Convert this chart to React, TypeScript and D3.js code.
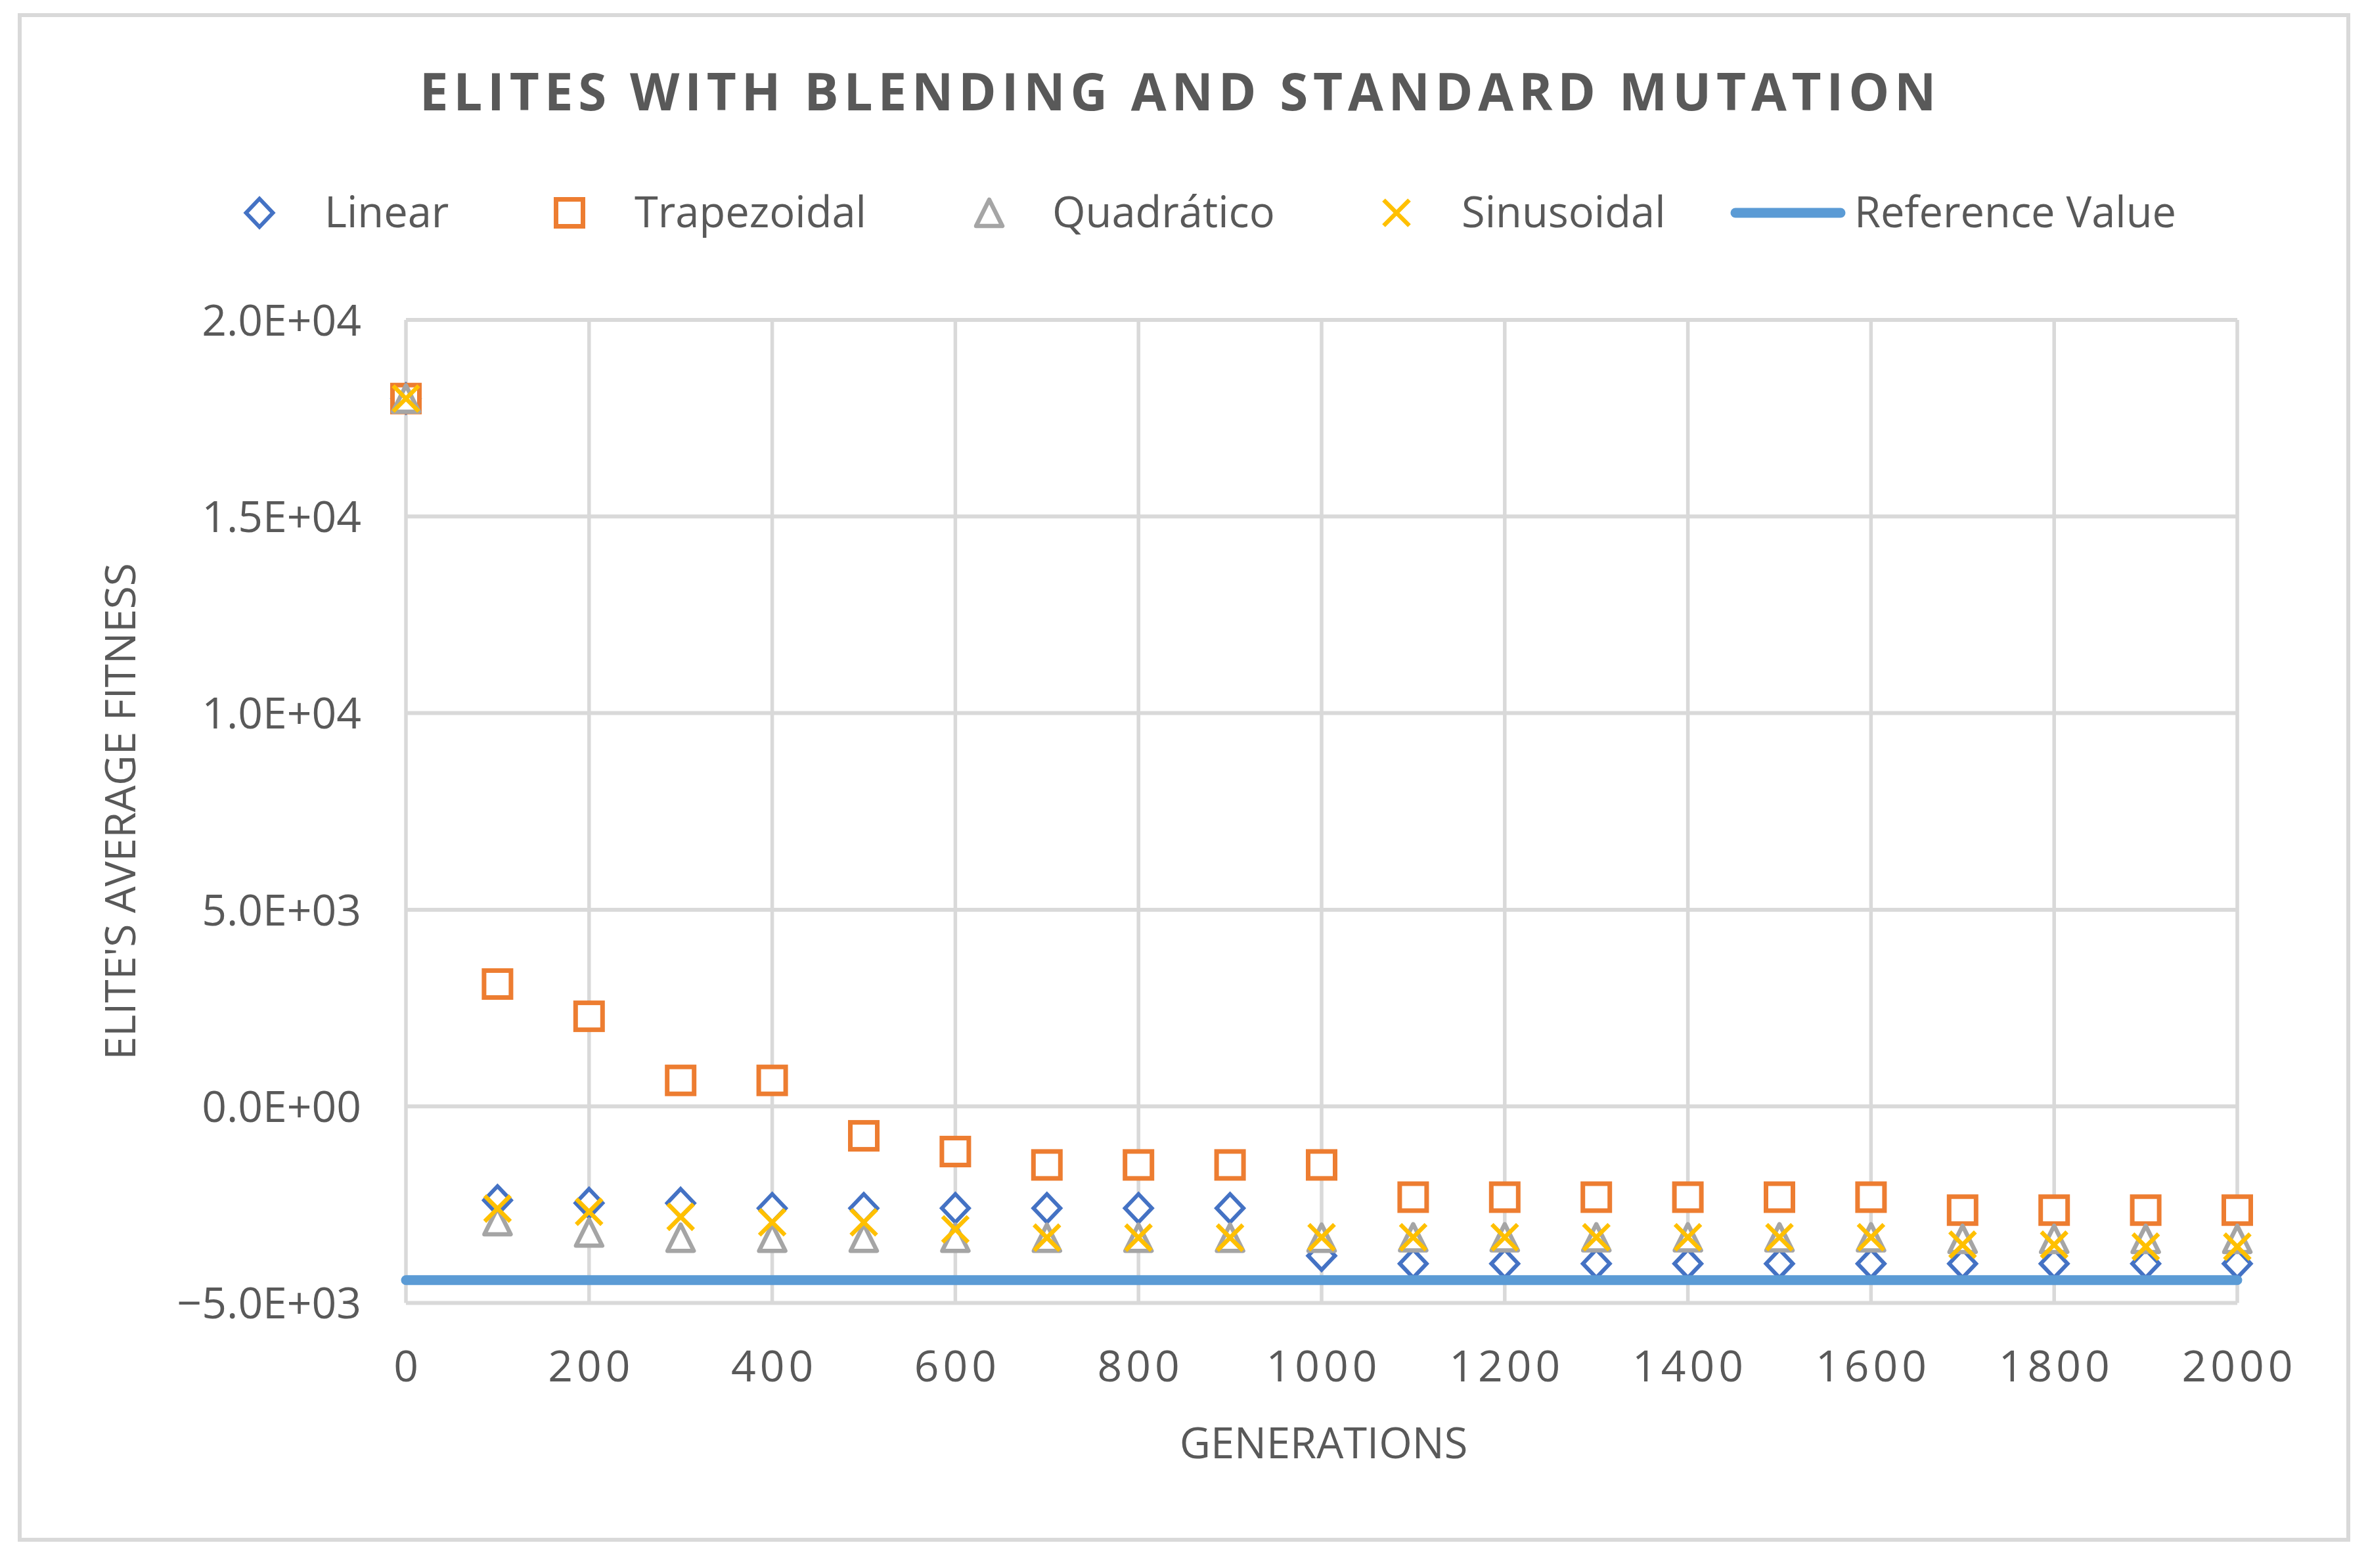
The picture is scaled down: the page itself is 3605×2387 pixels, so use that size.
import React from "react";
import * as d3 from "d3";

const generations = [0, 100, 200, 300, 400, 500, 600, 700, 800, 900, 1000, 1100, 1200, 1300, 1400, 1500, 1600, 1700, 1800, 1900, 2000];
const linear = [18000, -2390, -2460, -2460, -2590, -2590, -2590, -2590, -2590, -2590, -3800, -4000, -4000, -4000, -4000, -4000, -4000, -4000, -4000, -4000, -4000];
const trapezoidal = [18000, 3110, 2290, 660, 660, -750, -1150, -1490, -1490, -1490, -1490, -2310, -2310, -2310, -2310, -2310, -2310, -2640, -2640, -2640, -2640];
const quadratico = [18000, -2920, -3210, -3340, -3340, -3340, -3340, -3340, -3340, -3340, -3340, -3330, -3330, -3330, -3330, -3330, -3330, -3370, -3370, -3370, -3370];
const sinusoidal = [18000, -2600, -2680, -2810, -2950, -2950, -3130, -3340, -3340, -3340, -3330, -3330, -3330, -3330, -3330, -3330, -3330, -3520, -3520, -3570, -3570];
const referenceValue = -4420;

const yTicks = [-5000, 0, 5000, 10000, 15000, 20000];
const xTicks = [0, 200, 400, 600, 800, 1000, 1200, 1400, 1600, 1800, 2000];

const title = "ELITES WITH BLENDING AND STANDARD MUTATION";
const xTitle = "GENERATIONS";
const yTitle = "ELITE'S AVERAGE FITNESS";
const legendNames = ["Linear", "Trapezoidal", "Quadrático", "Sinusoidal", "Reference Value"];

const C_LINEAR = "#4472c4";
const C_TRAP = "#ed7d31";
const C_QUAD = "#a5a5a5";
const C_SIN = "#ffc000";
const C_REF = "#5b9bd5";
const C_TEXT = "#595959";
const C_GRID = "#d9d9d9";
const FONT = "'Open Sans', 'Noto Sans', sans-serif";

const W = 3605;
const H = 2387;
const x = d3.scaleLinear().domain([0, 2000]).range([618, 3406]);
const y = d3.scaleLinear().domain([-5000, 20000]).range([1983.5, 487]);

function fmtE(v: number): string {
  const s = d3.format(".1e")(v);
  const m = s.match(/^([−-]?[\d.]+)e([+-])(\d+)$/);
  if (!m) return s;
  return `${m[1]}E${m[2]}${m[3].padStart(2, "0")}`;
}

type Kind = "diamond" | "square" | "triangle" | "x";

function Marker({ kind, cx, cy, color }: { kind: Kind; cx: number; cy: number; color: string }) {
  if (kind === "diamond") {
    const r = 21.5;
    return (
      <path d={`M${cx},${cy - r}L${cx + r * 0.95},${cy}L${cx},${cy + r}L${cx - r * 0.95},${cy}Z`} fill="white" stroke={color} strokeWidth={6} />
    );
  }
  if (kind === "square") {
    const h = 20.5;
    return <rect x={cx - h} y={cy - h} width={2 * h} height={2 * h} fill="white" stroke={color} strokeWidth={7} />;
  }
  if (kind === "triangle") {
    const h = 20;
    return (
      <path d={`M${cx},${cy - h}L${cx + h},${cy + h}L${cx - h},${cy + h}Z`} fill="white" stroke={color} strokeWidth={6.5} strokeLinejoin="round" />
    );
  }
  const r = 19.5;
  return (
    <path d={`M${cx - r},${cy - r}L${cx + r},${cy + r}M${cx - r},${cy + r}L${cx + r},${cy - r}`} fill="none" stroke={color} strokeWidth={6.5} />
  );
}

const series: { values: number[]; kind: Kind; color: string }[] = [
  { values: linear, kind: "diamond", color: C_LINEAR },
  { values: trapezoidal, kind: "square", color: C_TRAP },
  { values: quadratico, kind: "triangle", color: C_QUAD },
  { values: sinusoidal, kind: "x", color: C_SIN },
];

const legendMarkerX = [395, 867, 1506, 2126];
const legendTextX = [494, 966, 1602, 2225, 2823];

export default function App() {
  const [x0, x1] = x.range();
  const [yb, yt] = y.range();
  return (
    <div style={{ position: "absolute", left: 0, top: 0 }}>
      <svg width={W} height={H} viewBox={`0 0 ${W} ${H}`} style={{ display: "block", background: "white" }}>
        <rect x={0} y={0} width={W} height={H} fill="white" />
        <rect x={30} y={23} width={3545} height={2321} fill="white" stroke={C_GRID} strokeWidth={6} />

        <text x={1797} y={168} textAnchor="middle" fontFamily={FONT} fontWeight={700} fontSize={78} letterSpacing={7.8} fill={C_TEXT}>
          {title}
        </text>

        {/* legend */}
        {series.map((s, i) => (
          <Marker key={`lm${i}`} kind={s.kind} cx={legendMarkerX[i]} cy={324} color={s.color} />
        ))}
        <line x1={2642} x2={2802} y1={324} y2={324} stroke={C_REF} strokeWidth={15} strokeLinecap="round" />
        {legendNames.map((n, i) => (
          <text key={`lt${i}`} x={legendTextX[i]} y={346} fontFamily={FONT} fontSize={65} fill={C_TEXT}>
            {n}
          </text>
        ))}

        {/* gridlines */}
        {xTicks.map((t) => (
          <line key={`vg${t}`} x1={x(t)} x2={x(t)} y1={yt} y2={yb} stroke={C_GRID} strokeWidth={5.5} />
        ))}
        {yTicks.map((t) => (
          <line key={`hg${t}`} x1={x0} x2={x1} y1={y(t)} y2={y(t)} stroke={C_GRID} strokeWidth={6} />
        ))}

        {/* y tick labels */}
        {yTicks.map((t) => (
          <text key={`yl${t}`} x={550} y={y(t)} dy="0.36em" textAnchor="end" fontFamily={FONT} fontSize={66} fill={C_TEXT}>
            {fmtE(t)}
          </text>
        ))}
        {/* x tick labels */}
        {xTicks.map((t) => (
          <text key={`xl${t}`} x={x(t) + 3} y={2103} textAnchor="middle" fontFamily={FONT} fontSize={66} letterSpacing={6} fill={C_TEXT}>
            {String(t)}
          </text>
        ))}

        <text x={2015} y={2220} textAnchor="middle" fontFamily={FONT} fontSize={65} fill={C_TEXT}>
          {xTitle}
        </text>
        <text transform={`translate(206, ${(yt + yb) / 2}) rotate(-90)`} textAnchor="middle" fontFamily={FONT} fontSize={64} fill={C_TEXT}>
          {yTitle}
        </text>

        {/* series */}
        {series.map((s, si) => (
          <g key={`s${si}`}>
            {s.values.map((v, i) => (
              <Marker key={i} kind={s.kind} cx={x(generations[i])} cy={y(v)} color={s.color} />
            ))}
          </g>
        ))}
        <line x1={x(0)} x2={x(2000)} y1={y(referenceValue)} y2={y(referenceValue)} stroke={C_REF} strokeWidth={15} strokeLinecap="round" />
      </svg>
    </div>
  );
}
